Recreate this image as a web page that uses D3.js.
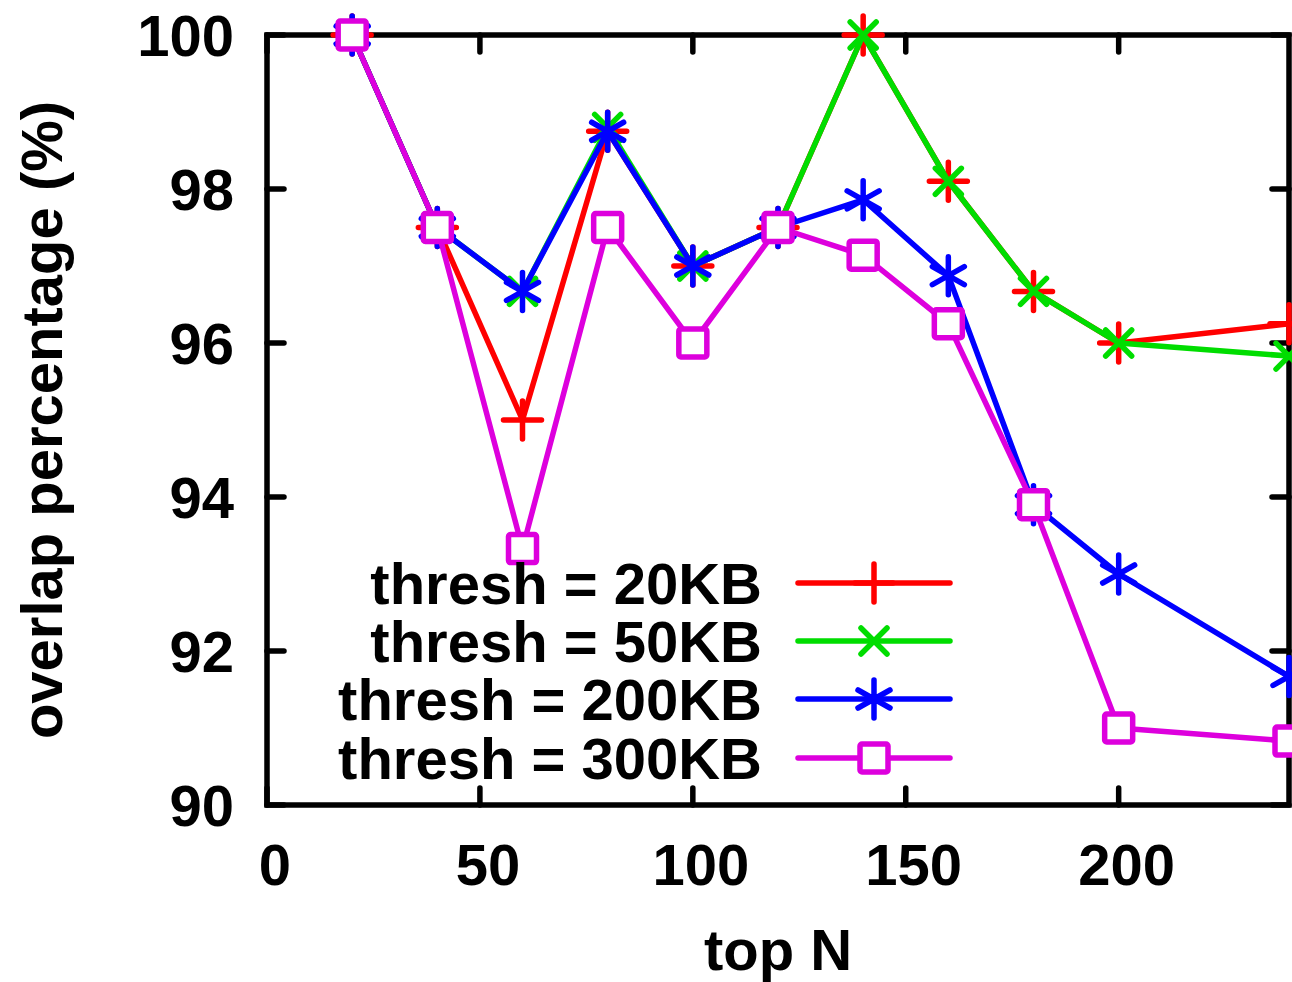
<!DOCTYPE html>
<html>
<head>
<meta charset="utf-8">
<script src="https://cdn.jsdelivr.net/npm/d3@7"></script>
<style>
  body { margin: 0; background: #fff; }
  svg text { font-family: "Liberation Sans", Arial, sans-serif; font-weight: bold; }
</style>
</head>
<body>
<div id="chart"></div>
<script>
// top N values on the x axis
var topN = [20, 40, 60, 80, 100, 120, 140, 160, 180, 200, 240];

// overlap percentage for each threshold
var thresh20 = [100, 97.5, 95, 98.75, 97, 97.5, 100, 98.1, 96.67, 96, 96.25];
var thresh50 = [100, 97.5, 96.67, 98.8, 97, 97.5, 100, 98.1, 96.67, 96, 95.83];
var thresh200 = [100, 97.5, 96.67, 98.75, 97, 97.5, 97.86, 96.875, 93.9, 93, 91.67];
var thresh300 = [100, 97.5, 93.33, 97.5, 96, 97.5, 97.14, 96.25, 93.9, 91, 90.83];

var seriesNames = ["thresh = 20KB", "thresh = 50KB", "thresh = 200KB", "thresh = 300KB"];
var xTicks = [0, 50, 100, 150, 200];
var yTicks = [90, 92, 94, 96, 98, 100];

var width = 1292;
var height = 982;
var plotLeft = 267, plotRight = 1289, plotTop = 35, plotBottom = 805;
var fs = 58;
var lw = 5.5;

var series = [
  { name: seriesNames[0], values: thresh20, color: "#ff0000", marker: "plus" },
  { name: seriesNames[1], values: thresh50, color: "#00dd00", marker: "cross" },
  { name: seriesNames[2], values: thresh200, color: "#0000ff", marker: "star" },
  { name: seriesNames[3], values: thresh300, color: "#dd00dd", marker: "square" }
];

var svg = d3.select("#chart")
  .append("svg")
  .attr("width", width)
  .attr("height", height);

var xscale = d3.scaleLinear().domain([0, 240]).range([plotLeft, plotRight]);
var yscale = d3.scaleLinear().domain([90, 100]).range([plotBottom, plotTop]);

// ticks pointing inwards on all four sides
var tickLen = 17;
var axes = svg.append("g")
  .attr("stroke", "#000")
  .attr("stroke-width", lw)
  .attr("stroke-linecap", "round");

xTicks.forEach(function(t) {
  axes.append("line").attr("x1", xscale(t)).attr("x2", xscale(t))
    .attr("y1", plotBottom).attr("y2", plotBottom - tickLen);
  axes.append("line").attr("x1", xscale(t)).attr("x2", xscale(t))
    .attr("y1", plotTop).attr("y2", plotTop + tickLen);
});
yTicks.forEach(function(t) {
  axes.append("line").attr("x1", plotLeft).attr("x2", plotLeft + tickLen)
    .attr("y1", yscale(t)).attr("y2", yscale(t));
  axes.append("line").attr("x1", plotRight).attr("x2", plotRight - tickLen)
    .attr("y1", yscale(t)).attr("y2", yscale(t));
});

axes.append("rect")
  .attr("x", plotLeft).attr("y", plotTop)
  .attr("width", plotRight - plotLeft).attr("height", plotBottom - plotTop)
  .attr("fill", "none")
  .attr("stroke-linejoin", "miter");

// tick labels (gnuplot puts them a little right of the tick)
svg.selectAll(".xlab")
  .data(xTicks)
  .enter()
  .append("text")
  .attr("x", d => xscale(d) + 8)
  .attr("y", plotBottom + 80)
  .attr("text-anchor", "middle")
  .style("font-size", fs + "px")
  .text(d => d);

svg.selectAll(".ylab")
  .data(yTicks)
  .enter()
  .append("text")
  .attr("x", plotLeft - 33)
  .attr("y", d => yscale(d) + 21)
  .attr("text-anchor", "end")
  .style("font-size", fs + "px")
  .text(d => d);

svg.append("text")
  .attr("x", (plotLeft + plotRight) / 2)
  .attr("y", 970)
  .attr("text-anchor", "middle")
  .style("font-size", fs + "px")
  .text("top N");

svg.append("text")
  .attr("transform", "translate(62," + ((plotTop + plotBottom) / 2) + ") rotate(-90)")
  .attr("text-anchor", "middle")
  .style("font-size", fs + "px")
  .text("overlap percentage (%)");

function drawMarker(g, type, x, y, color) {
  var m = g.append("g")
    .attr("transform", "translate(" + x + "," + y + ")")
    .attr("stroke", color)
    .attr("stroke-width", lw)
    .attr("stroke-linecap", "round")
    .attr("fill", "none");
  if (type == "plus") {
    m.append("path").attr("d", "M-19,0H19M0,-19V19");
  } else if (type == "cross") {
    m.append("path").attr("d", "M-13,-13L13,13M-13,13L13,-13");
  } else if (type == "star") {
    m.append("path").attr("d", "M0,-19V19M-16,-9L16,9M-16,9L16,-9");
  } else {
    m.append("rect").attr("x", -14).attr("y", -14).attr("width", 28).attr("height", 28)
      .attr("rx", 2).attr("fill", "#fff");
  }
}

var line = d3.line()
  .x(d => xscale(d[0]))
  .y(d => yscale(d[1]));

series.forEach(function(s) {
  var pts = topN.map((n, i) => [n, s.values[i]]);
  var g = svg.append("g");
  g.append("path")
    .datum(pts)
    .attr("d", line)
    .attr("fill", "none")
    .attr("stroke", s.color)
    .attr("stroke-width", lw)
    .attr("stroke-linejoin", "round");
  pts.forEach(function(p) {
    drawMarker(g, s.marker, xscale(p[0]), yscale(p[1]), s.color);
  });
});

// legend
var legendY = [583, 641, 699, 758];
series.forEach(function(s, i) {
  var g = svg.append("g");
  g.append("text")
    .attr("x", 762)
    .attr("y", legendY[i] + 21)
    .attr("text-anchor", "end")
    .style("font-size", fs + "px")
    .text(s.name);
  g.append("line")
    .attr("x1", 798).attr("x2", 950)
    .attr("y1", legendY[i]).attr("y2", legendY[i])
    .attr("stroke", s.color)
    .attr("stroke-width", lw)
    .attr("stroke-linecap", "round");
  drawMarker(g, s.marker, 874, legendY[i], s.color);
});
</script>
</body>
</html>
